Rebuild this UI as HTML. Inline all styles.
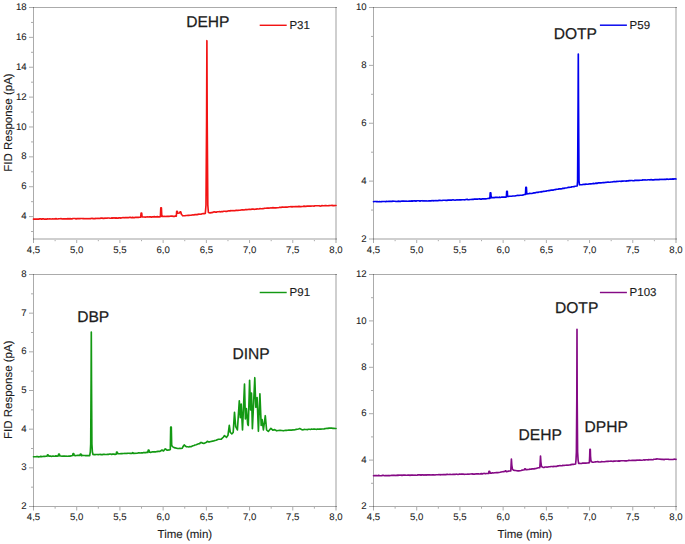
<!DOCTYPE html>
<html><head><meta charset="utf-8"><style>
html,body{margin:0;padding:0;background:#fff;}
svg{display:block;}
text{font-family:"Liberation Sans", sans-serif;fill:#1c1c1c;stroke:#1c1c1c;text-rendering:geometricPrecision;}
.tk{font-size:9.6px;stroke-width:0.08px;}
.lg{font-size:11.5px;stroke-width:0.15px;}
.an{font-size:15.6px;stroke-width:0.25px;}
.at{font-size:11.5px;stroke-width:0.1px;}
</style></head><body>
<svg width="685" height="544" viewBox="0 0 685 544">
<rect width="685" height="544" fill="#fff"/>
<line x1="33.50" y1="240.00" x2="33.50" y2="243.00" stroke="rgba(0,0,0,0.33)" stroke-width="1"/>
<text x="33.50" y="252.60" text-anchor="middle" class="tk">4,5</text>
<line x1="76.71" y1="240.00" x2="76.71" y2="243.00" stroke="rgba(0,0,0,0.33)" stroke-width="1"/>
<text x="76.71" y="252.60" text-anchor="middle" class="tk">5,0</text>
<line x1="119.93" y1="240.00" x2="119.93" y2="243.00" stroke="rgba(0,0,0,0.33)" stroke-width="1"/>
<text x="119.93" y="252.60" text-anchor="middle" class="tk">5,5</text>
<line x1="163.14" y1="240.00" x2="163.14" y2="243.00" stroke="rgba(0,0,0,0.33)" stroke-width="1"/>
<text x="163.14" y="252.60" text-anchor="middle" class="tk">6,0</text>
<line x1="206.36" y1="240.00" x2="206.36" y2="243.00" stroke="rgba(0,0,0,0.33)" stroke-width="1"/>
<text x="206.36" y="252.60" text-anchor="middle" class="tk">6,5</text>
<line x1="249.57" y1="240.00" x2="249.57" y2="243.00" stroke="rgba(0,0,0,0.33)" stroke-width="1"/>
<text x="249.57" y="252.60" text-anchor="middle" class="tk">7,0</text>
<line x1="292.79" y1="240.00" x2="292.79" y2="243.00" stroke="rgba(0,0,0,0.33)" stroke-width="1"/>
<text x="292.79" y="252.60" text-anchor="middle" class="tk">7,5</text>
<rect x="335" y="240" width="2" height="3.00" fill="rgba(0,0,0,0.19)"/>
<text x="336.00" y="252.60" text-anchor="middle" class="tk">8,0</text>
<line x1="55.11" y1="240.00" x2="55.11" y2="241.20" stroke="rgba(0,0,0,0.33)" stroke-width="1"/>
<line x1="98.32" y1="240.00" x2="98.32" y2="241.20" stroke="rgba(0,0,0,0.33)" stroke-width="1"/>
<line x1="141.54" y1="240.00" x2="141.54" y2="241.20" stroke="rgba(0,0,0,0.33)" stroke-width="1"/>
<line x1="184.75" y1="240.00" x2="184.75" y2="241.20" stroke="rgba(0,0,0,0.33)" stroke-width="1"/>
<line x1="227.96" y1="240.00" x2="227.96" y2="241.20" stroke="rgba(0,0,0,0.33)" stroke-width="1"/>
<line x1="271.18" y1="240.00" x2="271.18" y2="241.20" stroke="rgba(0,0,0,0.33)" stroke-width="1"/>
<line x1="314.39" y1="240.00" x2="314.39" y2="241.20" stroke="rgba(0,0,0,0.33)" stroke-width="1"/>
<line x1="29.00" y1="216.60" x2="33.00" y2="216.60" stroke="rgba(0,0,0,0.33)" stroke-width="1"/>
<text x="26.70" y="219.20" text-anchor="end" class="tk">4</text>
<line x1="29.00" y1="186.73" x2="33.00" y2="186.73" stroke="rgba(0,0,0,0.33)" stroke-width="1"/>
<text x="26.70" y="189.33" text-anchor="end" class="tk">6</text>
<line x1="29.00" y1="156.85" x2="33.00" y2="156.85" stroke="rgba(0,0,0,0.33)" stroke-width="1"/>
<text x="26.70" y="159.45" text-anchor="end" class="tk">8</text>
<line x1="29.00" y1="126.98" x2="33.00" y2="126.98" stroke="rgba(0,0,0,0.33)" stroke-width="1"/>
<text x="26.70" y="129.58" text-anchor="end" class="tk">10</text>
<line x1="29.00" y1="97.11" x2="33.00" y2="97.11" stroke="rgba(0,0,0,0.33)" stroke-width="1"/>
<text x="26.70" y="99.71" text-anchor="end" class="tk">12</text>
<line x1="29.00" y1="67.24" x2="33.00" y2="67.24" stroke="rgba(0,0,0,0.33)" stroke-width="1"/>
<text x="26.70" y="69.84" text-anchor="end" class="tk">14</text>
<line x1="29.00" y1="37.37" x2="33.00" y2="37.37" stroke="rgba(0,0,0,0.33)" stroke-width="1"/>
<text x="26.70" y="39.97" text-anchor="end" class="tk">16</text>
<line x1="29.00" y1="7.50" x2="33.00" y2="7.50" stroke="rgba(0,0,0,0.33)" stroke-width="1"/>
<text x="26.70" y="10.10" text-anchor="end" class="tk">18</text>
<line x1="31.00" y1="231.53" x2="33.00" y2="231.53" stroke="rgba(0,0,0,0.33)" stroke-width="1"/>
<line x1="31.00" y1="201.66" x2="33.00" y2="201.66" stroke="rgba(0,0,0,0.33)" stroke-width="1"/>
<line x1="31.00" y1="171.79" x2="33.00" y2="171.79" stroke="rgba(0,0,0,0.33)" stroke-width="1"/>
<line x1="31.00" y1="141.92" x2="33.00" y2="141.92" stroke="rgba(0,0,0,0.33)" stroke-width="1"/>
<line x1="31.00" y1="112.05" x2="33.00" y2="112.05" stroke="rgba(0,0,0,0.33)" stroke-width="1"/>
<line x1="31.00" y1="82.18" x2="33.00" y2="82.18" stroke="rgba(0,0,0,0.33)" stroke-width="1"/>
<line x1="31.00" y1="52.31" x2="33.00" y2="52.31" stroke="rgba(0,0,0,0.33)" stroke-width="1"/>
<line x1="31.00" y1="22.44" x2="33.00" y2="22.44" stroke="rgba(0,0,0,0.33)" stroke-width="1"/>
<rect x="33" y="7" width="1" height="233" fill="rgba(0,0,0,0.33)"/>
<rect x="33" y="7" width="304" height="1" fill="rgba(0,0,0,0.33)"/>
<rect x="335" y="7" width="2" height="233" fill="rgba(0,0,0,0.19)"/>
<rect x="33" y="238" width="304" height="2" fill="rgba(0,0,0,0.19)"/>
<line x1="373.50" y1="240.00" x2="373.50" y2="243.00" stroke="rgba(0,0,0,0.33)" stroke-width="1"/>
<text x="373.50" y="252.60" text-anchor="middle" class="tk">4,5</text>
<line x1="416.71" y1="240.00" x2="416.71" y2="243.00" stroke="rgba(0,0,0,0.33)" stroke-width="1"/>
<text x="416.71" y="252.60" text-anchor="middle" class="tk">5,0</text>
<line x1="459.93" y1="240.00" x2="459.93" y2="243.00" stroke="rgba(0,0,0,0.33)" stroke-width="1"/>
<text x="459.93" y="252.60" text-anchor="middle" class="tk">5,5</text>
<line x1="503.14" y1="240.00" x2="503.14" y2="243.00" stroke="rgba(0,0,0,0.33)" stroke-width="1"/>
<text x="503.14" y="252.60" text-anchor="middle" class="tk">6,0</text>
<line x1="546.36" y1="240.00" x2="546.36" y2="243.00" stroke="rgba(0,0,0,0.33)" stroke-width="1"/>
<text x="546.36" y="252.60" text-anchor="middle" class="tk">6,5</text>
<line x1="589.57" y1="240.00" x2="589.57" y2="243.00" stroke="rgba(0,0,0,0.33)" stroke-width="1"/>
<text x="589.57" y="252.60" text-anchor="middle" class="tk">7,0</text>
<line x1="632.79" y1="240.00" x2="632.79" y2="243.00" stroke="rgba(0,0,0,0.33)" stroke-width="1"/>
<text x="632.79" y="252.60" text-anchor="middle" class="tk">7,5</text>
<rect x="675" y="240" width="2" height="3.00" fill="rgba(0,0,0,0.19)"/>
<text x="676.00" y="252.60" text-anchor="middle" class="tk">8,0</text>
<line x1="395.11" y1="240.00" x2="395.11" y2="241.20" stroke="rgba(0,0,0,0.33)" stroke-width="1"/>
<line x1="438.32" y1="240.00" x2="438.32" y2="241.20" stroke="rgba(0,0,0,0.33)" stroke-width="1"/>
<line x1="481.54" y1="240.00" x2="481.54" y2="241.20" stroke="rgba(0,0,0,0.33)" stroke-width="1"/>
<line x1="524.75" y1="240.00" x2="524.75" y2="241.20" stroke="rgba(0,0,0,0.33)" stroke-width="1"/>
<line x1="567.96" y1="240.00" x2="567.96" y2="241.20" stroke="rgba(0,0,0,0.33)" stroke-width="1"/>
<line x1="611.18" y1="240.00" x2="611.18" y2="241.20" stroke="rgba(0,0,0,0.33)" stroke-width="1"/>
<line x1="654.39" y1="240.00" x2="654.39" y2="241.20" stroke="rgba(0,0,0,0.33)" stroke-width="1"/>
<line x1="369.00" y1="239.00" x2="373.00" y2="239.00" stroke="rgba(0,0,0,0.33)" stroke-width="1"/>
<text x="366.70" y="241.60" text-anchor="end" class="tk">2</text>
<line x1="369.00" y1="181.12" x2="373.00" y2="181.12" stroke="rgba(0,0,0,0.33)" stroke-width="1"/>
<text x="366.70" y="183.72" text-anchor="end" class="tk">4</text>
<line x1="369.00" y1="123.25" x2="373.00" y2="123.25" stroke="rgba(0,0,0,0.33)" stroke-width="1"/>
<text x="366.70" y="125.85" text-anchor="end" class="tk">6</text>
<line x1="369.00" y1="65.38" x2="373.00" y2="65.38" stroke="rgba(0,0,0,0.33)" stroke-width="1"/>
<text x="366.70" y="67.97" text-anchor="end" class="tk">8</text>
<line x1="369.00" y1="7.50" x2="373.00" y2="7.50" stroke="rgba(0,0,0,0.33)" stroke-width="1"/>
<text x="366.70" y="10.10" text-anchor="end" class="tk">10</text>
<line x1="371.00" y1="210.06" x2="373.00" y2="210.06" stroke="rgba(0,0,0,0.33)" stroke-width="1"/>
<line x1="371.00" y1="152.19" x2="373.00" y2="152.19" stroke="rgba(0,0,0,0.33)" stroke-width="1"/>
<line x1="371.00" y1="94.31" x2="373.00" y2="94.31" stroke="rgba(0,0,0,0.33)" stroke-width="1"/>
<line x1="371.00" y1="36.44" x2="373.00" y2="36.44" stroke="rgba(0,0,0,0.33)" stroke-width="1"/>
<rect x="373" y="7" width="1" height="233" fill="rgba(0,0,0,0.33)"/>
<rect x="373" y="7" width="304" height="1" fill="rgba(0,0,0,0.33)"/>
<rect x="675" y="7" width="2" height="233" fill="rgba(0,0,0,0.19)"/>
<rect x="373" y="238" width="304" height="2" fill="rgba(0,0,0,0.19)"/>
<line x1="33.50" y1="507.00" x2="33.50" y2="510.50" stroke="rgba(0,0,0,0.33)" stroke-width="1"/>
<text x="33.50" y="519.60" text-anchor="middle" class="tk">4,5</text>
<line x1="76.71" y1="507.00" x2="76.71" y2="510.50" stroke="rgba(0,0,0,0.33)" stroke-width="1"/>
<text x="76.71" y="519.60" text-anchor="middle" class="tk">5,0</text>
<line x1="119.93" y1="507.00" x2="119.93" y2="510.50" stroke="rgba(0,0,0,0.33)" stroke-width="1"/>
<text x="119.93" y="519.60" text-anchor="middle" class="tk">5,5</text>
<line x1="163.14" y1="507.00" x2="163.14" y2="510.50" stroke="rgba(0,0,0,0.33)" stroke-width="1"/>
<text x="163.14" y="519.60" text-anchor="middle" class="tk">6,0</text>
<line x1="206.36" y1="507.00" x2="206.36" y2="510.50" stroke="rgba(0,0,0,0.33)" stroke-width="1"/>
<text x="206.36" y="519.60" text-anchor="middle" class="tk">6,5</text>
<line x1="249.57" y1="507.00" x2="249.57" y2="510.50" stroke="rgba(0,0,0,0.33)" stroke-width="1"/>
<text x="249.57" y="519.60" text-anchor="middle" class="tk">7,0</text>
<line x1="292.79" y1="507.00" x2="292.79" y2="510.50" stroke="rgba(0,0,0,0.33)" stroke-width="1"/>
<text x="292.79" y="519.60" text-anchor="middle" class="tk">7,5</text>
<rect x="335" y="507" width="2" height="3.50" fill="rgba(0,0,0,0.19)"/>
<text x="336.00" y="519.60" text-anchor="middle" class="tk">8,0</text>
<line x1="55.11" y1="507.00" x2="55.11" y2="508.70" stroke="rgba(0,0,0,0.33)" stroke-width="1"/>
<line x1="98.32" y1="507.00" x2="98.32" y2="508.70" stroke="rgba(0,0,0,0.33)" stroke-width="1"/>
<line x1="141.54" y1="507.00" x2="141.54" y2="508.70" stroke="rgba(0,0,0,0.33)" stroke-width="1"/>
<line x1="184.75" y1="507.00" x2="184.75" y2="508.70" stroke="rgba(0,0,0,0.33)" stroke-width="1"/>
<line x1="227.96" y1="507.00" x2="227.96" y2="508.70" stroke="rgba(0,0,0,0.33)" stroke-width="1"/>
<line x1="271.18" y1="507.00" x2="271.18" y2="508.70" stroke="rgba(0,0,0,0.33)" stroke-width="1"/>
<line x1="314.39" y1="507.00" x2="314.39" y2="508.70" stroke="rgba(0,0,0,0.33)" stroke-width="1"/>
<line x1="29.00" y1="506.50" x2="33.00" y2="506.50" stroke="rgba(0,0,0,0.33)" stroke-width="1"/>
<text x="26.70" y="509.10" text-anchor="end" class="tk">2</text>
<line x1="29.00" y1="467.83" x2="33.00" y2="467.83" stroke="rgba(0,0,0,0.33)" stroke-width="1"/>
<text x="26.70" y="470.43" text-anchor="end" class="tk">3</text>
<line x1="29.00" y1="429.17" x2="33.00" y2="429.17" stroke="rgba(0,0,0,0.33)" stroke-width="1"/>
<text x="26.70" y="431.77" text-anchor="end" class="tk">4</text>
<line x1="29.00" y1="390.50" x2="33.00" y2="390.50" stroke="rgba(0,0,0,0.33)" stroke-width="1"/>
<text x="26.70" y="393.10" text-anchor="end" class="tk">5</text>
<line x1="29.00" y1="351.83" x2="33.00" y2="351.83" stroke="rgba(0,0,0,0.33)" stroke-width="1"/>
<text x="26.70" y="354.43" text-anchor="end" class="tk">6</text>
<line x1="29.00" y1="313.17" x2="33.00" y2="313.17" stroke="rgba(0,0,0,0.33)" stroke-width="1"/>
<text x="26.70" y="315.77" text-anchor="end" class="tk">7</text>
<line x1="29.00" y1="274.50" x2="33.00" y2="274.50" stroke="rgba(0,0,0,0.33)" stroke-width="1"/>
<text x="26.70" y="277.10" text-anchor="end" class="tk">8</text>
<line x1="31.00" y1="487.17" x2="33.00" y2="487.17" stroke="rgba(0,0,0,0.33)" stroke-width="1"/>
<line x1="31.00" y1="448.50" x2="33.00" y2="448.50" stroke="rgba(0,0,0,0.33)" stroke-width="1"/>
<line x1="31.00" y1="409.83" x2="33.00" y2="409.83" stroke="rgba(0,0,0,0.33)" stroke-width="1"/>
<line x1="31.00" y1="371.17" x2="33.00" y2="371.17" stroke="rgba(0,0,0,0.33)" stroke-width="1"/>
<line x1="31.00" y1="332.50" x2="33.00" y2="332.50" stroke="rgba(0,0,0,0.33)" stroke-width="1"/>
<line x1="31.00" y1="293.83" x2="33.00" y2="293.83" stroke="rgba(0,0,0,0.33)" stroke-width="1"/>
<rect x="33" y="274" width="1" height="233" fill="rgba(0,0,0,0.33)"/>
<rect x="33" y="274" width="304" height="1" fill="rgba(0,0,0,0.33)"/>
<rect x="335" y="274" width="2" height="233" fill="rgba(0,0,0,0.19)"/>
<rect x="33" y="506" width="304" height="1" fill="rgba(0,0,0,0.33)"/>
<line x1="373.50" y1="507.00" x2="373.50" y2="510.50" stroke="rgba(0,0,0,0.33)" stroke-width="1"/>
<text x="373.50" y="519.60" text-anchor="middle" class="tk">4,5</text>
<line x1="416.71" y1="507.00" x2="416.71" y2="510.50" stroke="rgba(0,0,0,0.33)" stroke-width="1"/>
<text x="416.71" y="519.60" text-anchor="middle" class="tk">5,0</text>
<line x1="459.93" y1="507.00" x2="459.93" y2="510.50" stroke="rgba(0,0,0,0.33)" stroke-width="1"/>
<text x="459.93" y="519.60" text-anchor="middle" class="tk">5,5</text>
<line x1="503.14" y1="507.00" x2="503.14" y2="510.50" stroke="rgba(0,0,0,0.33)" stroke-width="1"/>
<text x="503.14" y="519.60" text-anchor="middle" class="tk">6,0</text>
<line x1="546.36" y1="507.00" x2="546.36" y2="510.50" stroke="rgba(0,0,0,0.33)" stroke-width="1"/>
<text x="546.36" y="519.60" text-anchor="middle" class="tk">6,5</text>
<line x1="589.57" y1="507.00" x2="589.57" y2="510.50" stroke="rgba(0,0,0,0.33)" stroke-width="1"/>
<text x="589.57" y="519.60" text-anchor="middle" class="tk">7,0</text>
<line x1="632.79" y1="507.00" x2="632.79" y2="510.50" stroke="rgba(0,0,0,0.33)" stroke-width="1"/>
<text x="632.79" y="519.60" text-anchor="middle" class="tk">7,5</text>
<rect x="675" y="507" width="2" height="3.50" fill="rgba(0,0,0,0.19)"/>
<text x="676.00" y="519.60" text-anchor="middle" class="tk">8,0</text>
<line x1="395.11" y1="507.00" x2="395.11" y2="508.70" stroke="rgba(0,0,0,0.33)" stroke-width="1"/>
<line x1="438.32" y1="507.00" x2="438.32" y2="508.70" stroke="rgba(0,0,0,0.33)" stroke-width="1"/>
<line x1="481.54" y1="507.00" x2="481.54" y2="508.70" stroke="rgba(0,0,0,0.33)" stroke-width="1"/>
<line x1="524.75" y1="507.00" x2="524.75" y2="508.70" stroke="rgba(0,0,0,0.33)" stroke-width="1"/>
<line x1="567.96" y1="507.00" x2="567.96" y2="508.70" stroke="rgba(0,0,0,0.33)" stroke-width="1"/>
<line x1="611.18" y1="507.00" x2="611.18" y2="508.70" stroke="rgba(0,0,0,0.33)" stroke-width="1"/>
<line x1="654.39" y1="507.00" x2="654.39" y2="508.70" stroke="rgba(0,0,0,0.33)" stroke-width="1"/>
<line x1="369.00" y1="506.50" x2="373.00" y2="506.50" stroke="rgba(0,0,0,0.33)" stroke-width="1"/>
<text x="366.70" y="509.10" text-anchor="end" class="tk">2</text>
<line x1="369.00" y1="460.10" x2="373.00" y2="460.10" stroke="rgba(0,0,0,0.33)" stroke-width="1"/>
<text x="366.70" y="462.70" text-anchor="end" class="tk">4</text>
<line x1="369.00" y1="413.70" x2="373.00" y2="413.70" stroke="rgba(0,0,0,0.33)" stroke-width="1"/>
<text x="366.70" y="416.30" text-anchor="end" class="tk">6</text>
<line x1="369.00" y1="367.30" x2="373.00" y2="367.30" stroke="rgba(0,0,0,0.33)" stroke-width="1"/>
<text x="366.70" y="369.90" text-anchor="end" class="tk">8</text>
<line x1="369.00" y1="320.90" x2="373.00" y2="320.90" stroke="rgba(0,0,0,0.33)" stroke-width="1"/>
<text x="366.70" y="323.50" text-anchor="end" class="tk">10</text>
<line x1="369.00" y1="274.50" x2="373.00" y2="274.50" stroke="rgba(0,0,0,0.33)" stroke-width="1"/>
<text x="366.70" y="277.10" text-anchor="end" class="tk">12</text>
<line x1="371.00" y1="483.30" x2="373.00" y2="483.30" stroke="rgba(0,0,0,0.33)" stroke-width="1"/>
<line x1="371.00" y1="436.90" x2="373.00" y2="436.90" stroke="rgba(0,0,0,0.33)" stroke-width="1"/>
<line x1="371.00" y1="390.50" x2="373.00" y2="390.50" stroke="rgba(0,0,0,0.33)" stroke-width="1"/>
<line x1="371.00" y1="344.10" x2="373.00" y2="344.10" stroke="rgba(0,0,0,0.33)" stroke-width="1"/>
<line x1="371.00" y1="297.70" x2="373.00" y2="297.70" stroke="rgba(0,0,0,0.33)" stroke-width="1"/>
<rect x="373" y="274" width="1" height="233" fill="rgba(0,0,0,0.33)"/>
<rect x="373" y="274" width="304" height="1" fill="rgba(0,0,0,0.33)"/>
<rect x="675" y="274" width="2" height="233" fill="rgba(0,0,0,0.19)"/>
<rect x="373" y="506" width="304" height="1" fill="rgba(0,0,0,0.33)"/>
<path d="M33.50,219.10 L34.52,218.97 L35.54,219.10 L36.56,219.01 L37.58,219.10 L38.60,219.10 L39.62,218.84 L40.63,218.81 L41.65,219.16 L42.67,218.89 L43.69,218.87 L44.71,219.19 L45.73,218.95 L46.75,219.10 L47.77,218.93 L48.79,218.99 L49.81,218.76 L50.83,218.96 L51.85,219.05 L52.87,218.89 L53.88,218.98 L54.90,218.93 L55.92,218.65 L56.94,218.95 L57.96,218.86 L58.98,218.72 L60.00,218.80 L61.00,218.58 L62.00,218.94 L63.00,218.76 L64.00,218.86 L65.00,218.92 L66.00,218.83 L67.00,218.92 L68.00,218.67 L69.00,218.84 L70.00,218.68 L71.00,218.88 L72.00,218.85 L73.00,218.49 L74.00,218.50 L75.00,218.53 L76.00,218.84 L77.00,218.60 L78.00,218.68 L79.00,218.52 L80.00,218.60 L81.00,218.54 L82.00,218.51 L83.00,218.61 L84.00,218.60 L85.00,218.73 L86.00,218.62 L87.00,218.72 L88.00,218.68 L89.00,218.73 L90.00,218.50 L91.00,218.56 L92.00,218.31 L93.00,218.60 L94.00,218.62 L95.00,218.58 L96.00,218.41 L97.00,218.45 L98.00,218.21 L99.00,218.47 L100.00,218.33 L101.00,218.19 L102.00,218.07 L103.00,218.40 L104.00,218.44 L105.00,218.02 L106.00,218.31 L107.00,218.12 L108.00,217.99 L109.00,218.03 L110.00,218.22 L111.00,218.24 L112.00,217.86 L113.00,218.09 L114.00,217.82 L115.00,218.10 L116.00,217.91 L117.00,218.13 L118.00,218.15 L119.00,217.92 L120.00,217.90 L121.03,218.08 L122.07,217.75 L123.11,217.61 L124.14,217.80 L125.17,217.52 L126.21,217.56 L127.24,217.61 L128.28,217.67 L129.31,217.43 L130.35,217.35 L131.38,217.68 L132.42,217.40 L133.45,217.65 L134.49,217.58 L135.52,217.32 L136.56,217.32 L137.59,217.31 L138.63,217.33 L139.66,217.28 L140.70,217.20 L141.10,213.00 L141.70,213.00 L142.10,217.00 L143.12,217.01 L144.13,217.03 L145.15,217.16 L146.17,216.96 L147.18,216.91 L148.20,217.03 L149.22,216.81 L150.23,216.82 L151.25,217.11 L152.27,216.90 L153.28,216.90 L154.30,216.65 L155.32,216.82 L156.33,216.88 L157.35,216.62 L158.37,216.87 L159.38,216.87 L160.40,216.80 L160.80,207.80 L161.40,207.80 L161.80,216.50 L162.83,216.28 L163.85,216.51 L164.88,216.41 L165.90,216.48 L166.93,216.31 L167.95,216.44 L168.97,216.43 L170.00,216.30 L171.05,216.07 L172.10,216.07 L173.15,216.33 L174.20,216.44 L175.25,216.11 L176.30,216.20 L176.70,211.30 L177.30,211.30 L177.80,213.20 L179.60,213.00 L180.10,211.70 L180.70,211.70 L181.50,214.50 L183.00,215.80 L184.00,215.71 L185.00,215.70 L186.00,215.51 L187.00,215.45 L188.00,215.36 L189.00,215.31 L190.00,215.30 L191.00,215.23 L192.00,214.99 L193.00,214.92 L194.00,214.98 L195.00,214.54 L196.00,214.67 L197.00,214.63 L198.00,214.34 L199.00,214.19 L200.00,214.20 L201.06,214.19 L202.12,213.81 L203.18,213.64 L204.24,213.61 L205.30,213.50 L206.00,205.00 L206.60,120.00 L206.90,40.70 L207.20,120.00 L207.80,205.00 L208.40,212.50 L210.00,212.90 L213.00,212.40 L214.10,211.80 L215.30,212.10 L216.35,212.10 L217.40,211.75 L218.45,211.76 L219.50,211.68 L220.55,211.82 L221.60,211.56 L222.65,211.66 L223.70,211.27 L224.75,211.26 L225.80,211.31 L226.85,211.33 L227.90,211.05 L228.95,210.86 L230.00,210.90 L231.00,210.66 L232.00,210.76 L233.00,210.54 L234.00,210.73 L235.00,210.67 L236.00,210.31 L237.00,210.28 L238.00,210.44 L239.00,210.29 L240.00,210.28 L241.00,210.01 L242.00,209.84 L243.00,209.83 L244.00,209.98 L245.00,209.67 L246.00,209.63 L247.00,209.59 L248.00,209.51 L249.00,209.44 L250.00,209.40 L251.00,209.52 L252.00,209.11 L253.00,208.97 L254.00,209.32 L255.00,209.22 L256.00,209.19 L257.00,208.88 L258.00,209.04 L259.00,208.96 L260.00,208.58 L261.00,208.74 L262.00,208.71 L263.00,208.56 L264.00,208.43 L265.00,208.26 L266.00,208.21 L267.00,208.09 L268.00,207.95 L269.00,208.11 L270.00,208.00 L271.00,207.85 L272.00,208.02 L273.00,207.62 L274.00,207.94 L275.00,207.79 L276.00,207.83 L277.00,207.75 L278.00,207.70 L279.00,207.49 L280.00,207.19 L281.00,207.45 L282.00,207.14 L283.00,207.13 L284.00,207.23 L285.00,207.11 L286.00,207.00 L287.00,207.17 L288.00,206.97 L289.00,206.79 L290.00,206.80 L291.00,206.66 L292.00,206.89 L293.00,206.68 L294.00,206.78 L295.00,206.56 L296.00,206.46 L297.00,206.57 L298.00,206.66 L299.00,206.34 L300.00,206.58 L301.00,206.60 L302.00,206.51 L303.00,206.49 L304.00,206.09 L305.00,206.33 L306.00,206.40 L307.00,206.01 L308.00,206.07 L309.00,206.03 L310.00,206.10 L311.00,206.09 L312.00,206.02 L313.00,206.02 L314.00,206.13 L315.00,205.77 L316.00,205.77 L317.00,205.77 L318.00,205.75 L319.00,205.70 L320.00,206.08 L321.00,206.00 L322.00,205.64 L323.00,205.80 L324.00,205.70 L325.00,205.67 L326.00,205.67 L327.00,205.77 L328.00,205.72 L329.00,205.60 L330.00,205.50 L331.00,205.54 L332.00,205.43 L333.00,205.59 L334.00,205.64 L335.00,205.47 L336.00,205.50" fill="none" stroke="#f21313" stroke-width="1.65" stroke-linejoin="round" stroke-linecap="round"/>
<path d="M373.50,201.70 L374.52,201.50 L375.54,201.52 L376.56,201.59 L377.58,201.67 L378.60,201.73 L379.62,201.53 L380.63,201.70 L381.65,201.60 L382.67,201.50 L383.69,201.45 L384.71,201.49 L385.73,201.56 L386.75,201.42 L387.77,201.52 L388.79,201.39 L389.81,201.28 L390.83,201.39 L391.85,201.44 L392.87,201.15 L393.88,201.28 L394.90,201.26 L395.92,201.44 L396.94,201.45 L397.96,201.18 L398.98,201.39 L400.00,201.20 L401.00,201.31 L402.00,201.07 L403.00,201.14 L404.00,200.98 L405.00,201.27 L406.00,201.19 L407.00,201.28 L408.00,201.22 L409.00,201.15 L410.00,201.17 L411.00,201.08 L412.00,200.87 L413.00,201.07 L414.00,200.80 L415.00,200.84 L416.00,201.11 L417.00,200.77 L418.00,200.78 L419.00,200.77 L420.00,201.10 L421.00,200.78 L422.00,200.70 L423.00,201.04 L424.00,200.71 L425.00,201.02 L426.00,200.93 L427.00,200.99 L428.00,201.03 L429.00,200.85 L430.00,200.80 L431.00,200.90 L432.00,200.53 L433.00,200.82 L434.00,200.67 L435.00,200.73 L436.00,200.43 L437.00,200.68 L438.00,200.73 L439.00,200.31 L440.00,200.40 L441.00,200.47 L442.00,200.55 L443.00,200.26 L444.00,200.20 L445.00,200.20 L446.00,200.33 L447.00,200.36 L448.00,200.17 L449.00,200.12 L450.00,200.10 L451.00,200.05 L452.00,200.05 L453.00,199.87 L454.00,200.02 L455.00,200.20 L456.00,199.92 L457.00,200.03 L458.00,199.74 L459.00,199.94 L460.00,199.94 L461.00,199.87 L462.00,199.77 L463.00,199.72 L464.00,199.76 L465.00,199.84 L466.00,199.48 L467.00,199.42 L468.00,199.67 L469.00,199.72 L470.00,199.50 L471.05,199.45 L472.09,199.37 L473.14,199.44 L474.19,199.15 L475.24,199.13 L476.28,199.05 L477.33,199.17 L478.38,199.00 L479.43,198.91 L480.47,199.06 L481.52,199.12 L482.57,198.78 L483.62,198.91 L484.66,198.72 L485.71,198.87 L486.76,198.70 L487.81,198.50 L488.85,198.43 L489.90,198.50 L490.20,192.80 L490.80,192.80 L491.20,197.80 L492.21,197.53 L493.23,197.67 L494.24,197.57 L495.25,197.42 L496.27,197.44 L497.28,197.36 L498.29,197.50 L499.31,197.16 L500.32,197.48 L501.33,197.19 L502.35,197.18 L503.36,197.07 L504.37,197.17 L505.39,197.10 L506.40,196.90 L506.70,191.20 L507.30,191.20 L507.60,196.50 L508.63,196.43 L509.67,196.29 L510.70,196.30 L511.73,196.26 L512.77,195.96 L513.80,196.00 L514.83,196.00 L515.87,195.69 L516.90,195.48 L517.93,195.38 L518.97,195.50 L520.00,195.30 L521.10,195.22 L522.20,195.18 L523.30,194.98 L524.40,194.55 L525.50,194.50 L525.80,187.20 L526.40,187.20 L526.80,194.00 L527.82,193.71 L528.83,193.59 L529.85,193.40 L530.86,193.47 L531.88,193.39 L532.89,193.25 L533.91,192.82 L534.92,192.93 L535.94,192.53 L536.95,192.43 L537.97,192.41 L538.98,191.97 L540.00,192.00 L541.00,191.67 L542.00,191.84 L543.00,191.44 L544.00,191.32 L545.00,191.26 L546.00,191.15 L547.00,190.70 L548.00,190.69 L549.00,190.58 L550.00,190.44 L551.00,190.17 L552.00,190.18 L553.00,190.19 L554.00,189.78 L555.00,189.69 L556.00,189.35 L557.00,189.27 L558.00,189.28 L559.00,188.88 L560.00,188.90 L561.00,188.90 L562.00,188.73 L563.00,188.20 L564.00,188.40 L565.00,187.98 L566.00,187.98 L567.00,187.80 L568.00,187.42 L569.00,187.42 L570.00,187.23 L571.00,187.13 L572.00,186.72 L573.00,186.76 L574.00,186.68 L575.00,186.30 L577.20,186.00 L577.60,181.00 L577.80,150.00 L578.10,100.00 L578.30,54.00 L578.50,100.00 L578.80,150.00 L579.00,181.00 L579.50,184.80 L581.00,184.70 L582.00,184.68 L583.00,184.53 L584.00,184.25 L585.00,184.32 L586.00,184.16 L587.00,184.23 L588.00,184.12 L589.00,183.97 L590.00,183.71 L591.00,183.82 L592.00,183.72 L593.00,183.42 L594.00,183.64 L595.00,183.44 L596.00,183.11 L597.00,183.37 L598.00,182.93 L599.00,182.92 L600.00,182.90 L601.00,182.92 L602.00,182.78 L603.00,182.68 L604.00,182.64 L605.00,182.48 L606.00,182.34 L607.00,182.20 L608.00,182.07 L609.00,182.27 L610.00,182.21 L611.00,182.04 L612.00,182.05 L613.00,181.80 L614.00,181.68 L615.00,181.65 L616.00,181.78 L617.00,181.34 L618.00,181.46 L619.00,181.27 L620.00,181.30 L621.00,181.36 L622.00,181.13 L623.00,181.06 L624.00,181.04 L625.00,181.04 L626.00,181.09 L627.00,180.85 L628.00,181.01 L629.00,180.63 L630.00,180.65 L631.00,180.52 L632.00,180.47 L633.00,180.71 L634.00,180.63 L635.00,180.34 L636.00,180.28 L637.00,180.33 L638.00,180.42 L639.00,180.39 L640.00,180.20 L641.00,180.27 L642.00,180.16 L643.00,179.92 L644.00,180.00 L645.00,179.87 L646.00,179.97 L647.00,179.95 L648.00,179.75 L649.00,179.73 L650.00,179.92 L651.00,179.55 L652.00,179.85 L653.00,179.85 L654.00,179.84 L655.00,179.55 L656.00,179.58 L657.00,179.56 L658.00,179.54 L659.00,179.65 L660.00,179.40 L661.00,179.46 L662.00,179.26 L663.00,179.48 L664.00,179.29 L665.00,179.32 L666.00,179.35 L667.00,179.01 L668.00,179.32 L669.00,179.25 L670.00,179.15 L671.00,179.14 L672.00,179.08 L673.00,178.94 L674.00,179.06 L675.00,178.82 L676.00,179.00" fill="none" stroke="#0000ee" stroke-width="1.65" stroke-linejoin="round" stroke-linecap="round"/>
<path d="M33.50,456.80 L34.54,456.76 L35.58,456.79 L36.62,456.66 L37.65,456.68 L38.69,456.81 L39.73,456.74 L40.77,456.37 L41.81,456.62 L42.85,456.51 L43.88,456.22 L44.92,456.32 L45.96,456.22 L47.00,456.30 L47.50,454.80 L48.10,454.80 L48.80,456.20 L49.84,455.99 L50.89,456.17 L51.93,456.32 L52.98,456.03 L54.02,456.25 L55.07,456.15 L56.11,455.88 L57.16,456.18 L58.20,456.00 L58.70,454.00 L59.30,454.00 L59.90,456.00 L60.91,456.05 L61.92,456.21 L62.93,456.13 L63.94,456.15 L64.95,455.98 L65.96,456.19 L66.97,456.26 L67.98,456.24 L68.99,456.06 L70.00,456.10 L72.60,455.50 L73.10,453.50 L73.70,453.50 L74.30,455.50 L75.42,455.61 L76.54,455.49 L77.66,455.33 L78.78,455.30 L79.90,455.50 L80.40,454.00 L81.00,454.00 L81.60,455.60 L82.61,455.41 L83.62,455.47 L84.64,455.45 L85.65,455.60 L86.66,455.69 L87.67,455.62 L88.69,455.57 L89.70,455.60 L90.30,452.00 L90.70,444.00 L91.10,380.00 L91.30,332.00 L91.50,380.00 L91.90,444.00 L92.40,452.00 L93.00,454.50 L94.00,454.60 L95.04,454.65 L96.07,454.49 L97.11,454.54 L98.14,454.66 L99.18,454.49 L100.21,454.37 L101.25,454.68 L102.29,454.58 L103.32,454.41 L104.36,454.40 L105.39,454.46 L106.43,454.47 L107.46,454.29 L108.50,454.40 L109.80,454.00 L110.40,454.00 L111.50,454.40 L112.67,454.13 L113.85,454.17 L115.03,454.37 L116.20,454.20 L116.60,452.00 L117.20,452.00 L118.00,453.80 L120.00,453.70 L121.00,453.52 L122.00,453.63 L123.00,453.49 L124.00,453.47 L125.00,453.43 L126.00,453.51 L127.00,453.38 L128.00,453.29 L129.00,453.30 L130.00,453.30 L131.00,453.42 L132.00,453.40 L132.80,452.60 L133.60,453.40 L137.00,453.20 L138.08,452.94 L139.16,452.85 L140.24,452.97 L141.32,452.88 L142.40,452.94 L143.48,452.58 L144.56,452.67 L145.64,452.59 L146.72,452.36 L147.80,452.50 L148.30,450.00 L148.90,450.00 L149.60,452.30 L150.64,452.41 L151.68,452.00 L152.72,451.85 L153.76,451.93 L154.80,451.70 L155.84,451.81 L156.88,451.60 L157.92,451.41 L158.96,451.29 L160.00,451.40 L161.30,450.50 L162.00,450.00 L162.70,450.50 L163.50,451.00 L164.60,449.50 L165.30,448.90 L166.20,449.50 L167.20,450.20 L169.30,449.90 L170.30,449.50 L170.70,427.00 L171.30,427.00 L171.70,445.50 L172.50,446.60 L174.10,447.60 L177.70,448.50 L178.80,448.55 L179.90,448.30 L181.00,448.48 L182.10,448.30 L183.40,446.00 L184.20,444.90 L185.20,446.00 L186.50,446.80 L187.60,446.76 L188.70,446.94 L189.80,446.64 L190.90,446.70 L191.93,446.16 L192.95,445.75 L193.97,445.56 L195.00,445.00 L196.20,444.71 L197.40,444.23 L198.60,443.77 L199.80,443.60 L200.30,442.60 L201.90,442.60 L202.50,443.30 L203.80,443.40 L206.50,442.30 L207.30,441.30 L208.20,441.80 L209.90,441.80 L213.70,440.90 L214.88,440.56 L216.05,440.26 L217.22,439.67 L218.40,439.20 L221.30,439.20 L223.50,437.00 L224.50,435.60 L225.50,436.50 L226.50,437.40 L228.00,435.20 L229.30,425.40 L230.30,432.50 L231.80,433.80 L233.20,432.50 L234.50,412.40 L235.70,426.60 L237.40,429.90 L239.30,400.90 L240.30,417.60 L241.20,404.10 L242.50,430.00 L244.50,384.10 L245.40,418.90 L246.40,408.60 L247.70,424.10 L248.30,425.50 L249.60,380.30 L250.60,409.90 L251.50,393.10 L252.40,428.70 L254.80,377.70 L255.80,407.30 L257.10,397.60 L258.40,431.30 L259.90,393.80 L261.20,425.40 L262.10,419.50 L263.40,430.00 L265.30,415.70 L266.60,430.00 L268.30,431.50 L270.90,428.30 L272.80,430.20 L274.70,429.60 L276.60,430.80 L280.00,430.30 L283.40,430.80 L284.45,430.48 L285.51,430.39 L286.56,430.32 L287.62,430.25 L288.67,430.10 L289.73,430.00 L290.78,430.17 L291.84,430.18 L292.89,429.77 L293.95,430.01 L295.00,429.70 L296.18,429.41 L297.35,429.28 L298.52,429.06 L299.70,428.60 L302.00,429.70 L303.06,429.84 L304.12,429.40 L305.18,429.46 L306.24,429.55 L307.30,429.65 L308.36,429.22 L309.42,429.26 L310.48,429.45 L311.54,429.08 L312.60,429.20 L313.64,429.13 L314.68,429.09 L315.72,429.22 L316.76,429.31 L317.80,428.96 L318.84,429.19 L319.88,429.16 L320.92,429.19 L321.96,429.04 L323.00,429.00 L324.00,429.04 L325.00,428.64 L326.00,428.51 L327.00,428.28 L328.00,428.37 L329.00,428.10 L330.00,428.15 L331.00,428.11 L332.00,428.13 L333.00,428.43 L334.00,428.43 L335.00,428.54 L336.00,428.50" fill="none" stroke="#139913" stroke-width="1.65" stroke-linejoin="round" stroke-linecap="round"/>
<path d="M373.50,475.70 L374.52,475.63 L375.54,475.66 L376.56,475.50 L377.58,475.73 L378.60,475.41 L379.62,475.59 L380.63,475.71 L381.65,475.65 L382.67,475.38 L383.69,475.43 L384.71,475.68 L385.73,475.58 L386.75,475.67 L387.77,475.65 L388.79,475.45 L389.81,475.63 L390.83,475.54 L391.85,475.35 L392.87,475.35 L393.88,475.20 L394.90,475.33 L395.92,475.56 L396.94,475.17 L397.96,475.36 L398.98,475.14 L400.00,475.30 L401.00,475.10 L402.00,475.34 L403.00,475.15 L404.00,475.05 L405.00,475.08 L406.00,475.28 L407.00,475.24 L408.00,474.98 L409.00,475.06 L410.00,475.37 L411.00,475.03 L412.00,475.17 L413.00,475.09 L414.00,475.24 L415.00,475.15 L416.00,475.21 L417.00,475.09 L418.00,474.92 L419.00,474.90 L420.00,474.85 L421.00,475.16 L422.00,474.84 L423.00,474.78 L424.00,475.19 L425.00,474.83 L426.00,475.13 L427.00,474.76 L428.00,474.91 L429.00,474.79 L430.00,474.90 L431.00,475.02 L432.00,474.91 L433.00,474.89 L434.00,474.93 L435.00,474.95 L436.00,474.70 L437.00,474.79 L438.00,474.70 L439.00,474.53 L440.00,474.82 L441.00,474.69 L442.00,474.77 L443.00,474.48 L444.00,474.60 L445.00,474.55 L446.00,474.64 L447.00,474.33 L448.00,474.43 L449.00,474.47 L450.00,474.26 L451.00,474.45 L452.00,474.51 L453.00,474.35 L454.00,474.43 L455.00,474.38 L456.00,474.19 L457.00,474.23 L458.00,474.49 L459.00,474.17 L460.00,474.19 L461.00,474.02 L462.00,474.06 L463.00,474.01 L464.00,474.32 L465.00,474.21 L466.00,474.25 L467.00,474.28 L468.00,474.09 L469.00,474.21 L470.00,474.00 L471.03,473.99 L472.07,473.91 L473.10,474.11 L474.13,474.07 L475.17,474.06 L476.20,473.83 L477.23,473.93 L478.27,473.74 L479.30,473.97 L480.33,473.91 L481.37,473.60 L482.40,473.86 L483.43,473.50 L484.47,473.43 L485.50,473.68 L486.53,473.47 L487.57,473.54 L488.60,473.50 L489.00,471.20 L489.60,471.20 L490.30,473.20 L491.38,473.16 L492.46,472.80 L493.53,473.01 L494.61,472.70 L495.69,472.67 L496.77,472.53 L497.84,472.61 L498.92,472.51 L500.00,472.30 L501.20,472.01 L502.40,471.73 L503.60,471.61 L504.80,471.50 L505.20,470.80 L505.80,470.80 L506.50,471.60 L507.57,471.41 L508.65,471.11 L509.73,471.00 L510.80,471.00 L511.10,465.00 L511.40,459.00 L511.80,465.00 L512.40,469.00 L513.50,470.20 L514.58,470.42 L515.67,470.49 L516.75,470.71 L517.83,470.81 L518.92,470.87 L520.00,470.80 L521.10,470.49 L522.20,470.15 L523.30,469.97 L524.40,469.80 L524.70,468.70 L525.30,468.70 L526.00,469.70 L527.00,469.56 L528.00,469.47 L529.00,469.35 L530.00,469.15 L531.00,469.24 L532.00,468.87 L533.00,468.83 L534.00,468.89 L535.00,468.60 L536.20,468.49 L537.40,468.01 L538.60,467.74 L539.80,467.60 L540.20,462.00 L540.50,456.10 L540.90,462.00 L541.50,466.50 L543.00,467.40 L544.00,467.45 L545.00,467.01 L546.00,466.98 L547.00,467.07 L548.00,466.99 L549.00,466.74 L550.00,466.80 L551.00,466.51 L552.00,466.48 L553.00,466.63 L554.00,466.40 L555.00,466.54 L556.00,466.36 L557.00,466.35 L558.00,465.84 L559.00,465.81 L560.00,465.64 L561.00,465.73 L562.00,465.59 L563.00,465.37 L564.00,465.49 L565.00,465.20 L566.00,465.20 L567.00,465.07 L568.00,465.22 L569.00,464.96 L570.00,464.90 L571.12,464.61 L572.24,464.34 L573.36,464.33 L574.48,464.24 L575.60,464.00 L576.00,460.00 L576.40,452.00 L576.80,400.00 L577.00,329.30 L577.20,400.00 L577.60,452.00 L578.10,460.00 L578.60,463.40 L579.64,463.42 L580.69,463.47 L581.73,463.37 L582.78,463.07 L583.82,462.96 L584.87,463.18 L585.91,463.14 L586.96,462.96 L588.00,462.90 L589.40,462.60 L589.70,456.00 L589.90,449.30 L590.30,449.30 L590.50,456.00 L590.90,460.50 L591.60,461.80 L592.50,462.10 L593.53,462.20 L594.56,462.03 L595.59,461.86 L596.62,461.77 L597.65,461.65 L598.68,461.88 L599.71,461.95 L600.74,461.90 L601.76,461.66 L602.79,461.70 L603.82,461.77 L604.85,461.67 L605.88,461.53 L606.91,461.40 L607.94,461.40 L608.97,461.20 L610.00,461.30 L611.00,461.12 L612.00,461.30 L613.00,461.40 L614.00,461.16 L615.00,461.06 L616.00,460.99 L617.00,461.00 L618.00,461.11 L619.00,460.92 L620.00,461.10 L621.00,460.71 L622.00,460.74 L623.00,460.79 L624.00,460.70 L625.00,460.85 L626.00,460.80 L627.00,460.81 L628.00,460.63 L629.00,460.33 L630.00,460.50 L631.00,460.49 L632.00,460.44 L633.00,460.37 L634.00,460.24 L635.00,460.39 L636.00,460.44 L637.00,460.05 L638.00,460.25 L639.00,460.08 L640.00,460.11 L641.00,460.23 L642.00,460.22 L643.00,460.04 L644.00,459.81 L645.00,460.09 L646.00,459.72 L647.00,459.77 L648.00,459.92 L649.00,459.66 L650.00,459.70 L651.00,459.51 L652.00,459.72 L653.00,459.63 L654.00,459.27 L655.00,459.22 L656.00,459.08 L657.00,458.93 L658.00,459.00 L662.00,459.40 L663.00,459.29 L664.00,459.61 L665.00,459.21 L666.00,459.28 L667.00,459.27 L668.00,459.21 L669.00,459.41 L670.00,459.51 L671.00,459.55 L672.00,459.46 L673.00,459.54 L674.00,459.18 L675.00,459.30 L676.00,459.40" fill="none" stroke="#850a85" stroke-width="1.65" stroke-linejoin="round" stroke-linecap="round"/>
<line x1="259.7" y1="25.3" x2="286.7" y2="25.3" stroke="#f21313" stroke-width="1.45"/><text x="289.40" y="28.65" class="lg">P31</text>
<line x1="599.9" y1="25.2" x2="626.9" y2="25.2" stroke="#0000ee" stroke-width="1.45"/><text x="629.60" y="28.65" class="lg">P59</text>
<line x1="259.7" y1="292.5" x2="286.7" y2="292.5" stroke="#139913" stroke-width="1.45"/><text x="289.60" y="295.95" class="lg">P91</text>
<line x1="599.9" y1="292.5" x2="626.9" y2="292.5" stroke="#850a85" stroke-width="1.45"/><text x="629.60" y="295.95" class="lg">P103</text>
<text x="186.17" y="27.35" class="an">DEHP</text>
<text x="553.67" y="38.75" class="an">DOTP</text>
<text x="77.17" y="321.85" class="an">DBP</text>
<text x="232.47" y="359.15" class="an">DINP</text>
<text x="554.97" y="313.45" class="an">DOTP</text>
<text x="518.57" y="439.85" class="an">DEHP</text>
<text x="584.57" y="431.85" class="an">DPHP</text>
<text transform="translate(11.9,122.55) rotate(-90)" text-anchor="middle" class="at">FID Response (pA)</text>
<text transform="translate(11.9,389.75) rotate(-90)" text-anchor="middle" class="at">FID Response (pA)</text>
<text x="184.88" y="537.95" text-anchor="middle" class="at">Time (min)</text>
<text x="524.88" y="537.95" text-anchor="middle" class="at">Time (min)</text>
</svg>
</body></html>
